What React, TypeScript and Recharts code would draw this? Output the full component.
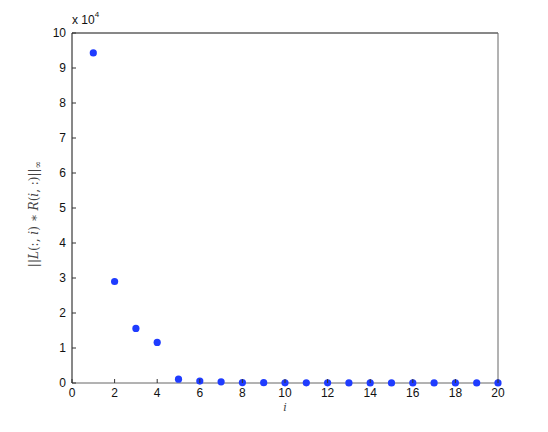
import { Label, Scatter, ScatterChart, XAxis, YAxis } from 'recharts';

const indices = [1, 2, 3, 4, 5, 6, 7, 8, 9, 10, 11, 12, 13, 14, 15, 16, 17, 18, 19, 20];
const normValues = [
  94300, 29000, 15600, 11600, 1100, 550, 350, 120, 80, 60, 50, 40, 30, 30, 20, 20, 20, 10, 10, 10,
];
const xTicks = [0, 2, 4, 6, 8, 10, 12, 14, 16, 18, 20];
const yTicks = [0, 10000, 20000, 30000, 40000, 50000, 60000, 70000, 80000, 90000, 100000];

const data = indices.map((i, k) => ({ i, v: normValues[k] }));

const FONT = '"Liberation Sans", Arial, sans-serif';
const TICK_LEN = 4;

// MATLAB-style ticks: mark drawn inward, label outside
function BottomTick({ x, y, payload }: any) {
  return (
    <g>
      <line x1={x} x2={x} y1={y} y2={y - TICK_LEN} stroke="#333" />
      <text x={x} y={y + 14} textAnchor="middle" fontSize={12} fontFamily={FONT} fill="#111">
        {payload.value}
      </text>
    </g>
  );
}

function TopTick({ x, y }: any) {
  return <line x1={x} x2={x} y1={y} y2={y + TICK_LEN} stroke="#333" />;
}

function LeftTick({ x, y, payload }: any) {
  return (
    <g>
      <line x1={x} x2={x + TICK_LEN} y1={y} y2={y} stroke="#333" />
      <text x={x - 6} y={y + 4} textAnchor="end" fontSize={12} fontFamily={FONT} fill="#111">
        {payload.value / 10000}
      </text>
    </g>
  );
}

function RightTick({ x, y }: any) {
  return <line x1={x} x2={x - TICK_LEN} y1={y} y2={y} stroke="#333" />;
}

function Dot({ cx, cy }: any) {
  return <circle cx={cx} cy={cy} r={3.6} fill="#1f3cff" />;
}

function YTitle({ viewBox }: any) {
  const cx = 38;
  const cy = viewBox.y + viewBox.height / 2 + 6;
  return (
    <text
      transform={`translate(${cx},${cy}) rotate(-90)`}
      textAnchor="middle"
      fontSize={12}
      fontFamily='"DejaVu Serif", serif'
      fill="#444"
    >
      <tspan>||</tspan>
      <tspan fontStyle="italic">L</tspan>
      <tspan>(:, </tspan>
      <tspan fontStyle="italic">i</tspan>
      <tspan>) ∗ </tspan>
      <tspan fontStyle="italic">R</tspan>
      <tspan>(</tspan>
      <tspan fontStyle="italic">i</tspan>
      <tspan>, :)||</tspan>
      <tspan fontSize={9} dy={3}>∞</tspan>
    </text>
  );
}

export default function App() {
  return (
    <div style={{ position: 'absolute', left: 0, top: 0, width: 548, height: 432, background: '#fff' }}>
      <ScatterChart width={548} height={432} margin={{ top: 32, right: 49, bottom: 19, left: 32 }}>
        <XAxis
          xAxisId="bottom"
          dataKey="i"
          type="number"
          domain={[0, 20]}
          ticks={xTicks}
          tickSize={0}
          tickMargin={0}
          tick={<BottomTick />}
          tickLine={false}
          axisLine={{ stroke: '#666' }}
          height={30}
        >
          <Label
            value="i"
            position="insideBottom"
            offset={2}
            style={{ fontFamily: '"DejaVu Serif", serif', fontStyle: 'italic', fontSize: 11, fill: '#444' }}
          />
        </XAxis>
        <XAxis
          xAxisId="top"
          orientation="top"
          dataKey="i"
          type="number"
          domain={[0, 20]}
          ticks={xTicks}
          tickSize={0}
          tickMargin={0}
          tick={<TopTick />}
          tickLine={false}
          axisLine={{ stroke: '#111' }}
          height={1}
        />
        <YAxis
          yAxisId="left"
          dataKey="v"
          type="number"
          domain={[0, 100000]}
          ticks={yTicks}
          tickSize={0}
          tickMargin={0}
          tick={<LeftTick />}
          tickLine={false}
          axisLine={{ stroke: '#111' }}
          width={40}
        >
          <Label content={<YTitle />} />
        </YAxis>
        <YAxis
          yAxisId="right"
          orientation="right"
          dataKey="v"
          type="number"
          domain={[0, 100000]}
          ticks={yTicks}
          tickSize={0}
          tickMargin={0}
          tick={<RightTick />}
          tickLine={false}
          axisLine={{ stroke: '#666' }}
          width={1}
        />
        <Scatter
          data={data}
          xAxisId="bottom"
          yAxisId="left"
          shape={<Dot />}
          isAnimationActive={false}
        />
        <Scatter data={[]} xAxisId="top" yAxisId="right" isAnimationActive={false} />
      </ScatterChart>
      <div
        style={{
          position: 'absolute',
          left: 72,
          top: 13,
          fontFamily: FONT,
          fontSize: 12,
          color: '#111',
          whiteSpace: 'nowrap',
        }}
      >
        x 10<sup style={{ fontSize: 8, verticalAlign: 'top', position: 'relative', top: -3 }}>4</sup>
      </div>
    </div>
  );
}
